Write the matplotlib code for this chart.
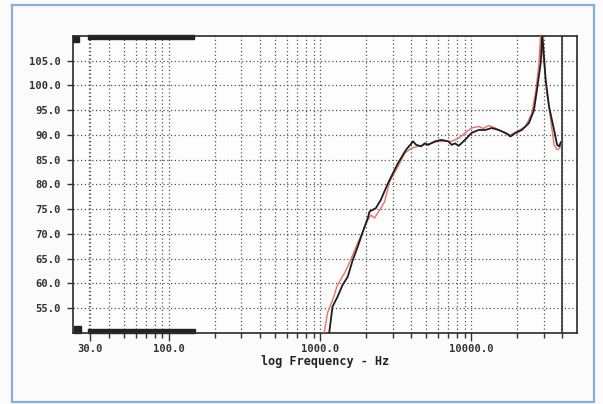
import numpy as np
import matplotlib
matplotlib.use('Agg')
import matplotlib.pyplot as plt
from matplotlib.patches import Rectangle
from matplotlib.ticker import FixedLocator, NullFormatter

# black trace (freq Hz, dB)
black_f = [1143, 1202, 1298, 1402, 1514, 1635, 1765, 1905, 2058, 2112, 2200, 2326, 2512,
           2797, 3262, 3687, 4107, 4300, 4642, 4900, 5169, 5728, 6310, 7026, 7400, 7787, 8200, 8577,
           9261, 10000, 11137, 12339, 13594, 15136, 16774, 18113, 19558, 21544,
           23988, 25910, 27133, 28708, 29424, 30988, 32620, 35223, 36879, 38019, 39024]
black_db = [50.0, 55.3, 57.3, 59.7, 61.3, 64.7, 67.4, 70.4, 73.2, 74.5, 74.8, 75.2, 76.9,
            80.2, 84.3, 87.0, 88.7, 88.0, 87.7, 88.3, 88.0, 88.7, 89.0, 88.7, 88.0, 88.3, 87.8, 88.3,
            89.3, 90.4, 91.0, 91.0, 91.4, 91.0, 90.4, 89.7, 90.4, 91.0,
            92.4, 95.0, 99.1, 104.5, 110.5, 101.1, 95.7, 91.0, 88.0, 87.7, 88.5]

# red trace
red_f = [1059, 1113, 1202, 1298, 1439, 1585, 1765, 1905, 2058, 2154, 2280, 2462,
         2659, 2871, 3262, 3614, 3981, 4433, 4912, 5412, 6026, 6678, 7356, 8189,
         9078, 10000, 11137, 12000, 12976, 14388, 15849, 18113, 19953, 22803, 25119,
         26714, 27971, 28708, 30200, 31623, 33475, 35223, 36879, 38431, 39200]
red_db = [50.0, 54.0, 56.6, 59.7, 62.0, 64.7, 68.2, 70.4, 72.8, 73.8, 73.2, 74.8,
          76.5, 80.6, 83.6, 86.3, 87.3, 87.7, 88.0, 88.3, 88.7, 88.7, 88.7, 89.3,
          90.4, 91.4, 91.7, 91.3, 91.9, 91.4, 90.7, 90.0, 90.7, 91.7, 94.4,
          99.1, 104.5, 110.5, 104.5, 98.4, 93.0, 88.0, 87.0, 87.3, 88.5]

yticks = [55, 60, 65, 70, 75, 80, 85, 90, 95, 100, 105]
xmajor = [30, 100, 1000, 10000]
xminor = [40, 50, 60, 70, 80, 90, 200, 300, 400, 500, 600, 700, 800, 900,
          2000, 3000, 4000, 5000, 6000, 7000, 8000, 9000, 20000, 30000, 40000]

font = 'DejaVu Sans Mono'

fig = plt.figure(figsize=(6.03, 4.04), dpi=100)
fig.patch.set_facecolor('#fbfbfb')
fig.patches.append(Rectangle((0.02, 0.006), 0.965, 0.981, transform=fig.transFigure,
                             fill=False, edgecolor='#8aaedb', linewidth=1.6))

ax = fig.add_axes([0.121, 0.176, 0.836, 0.735])
ax.set_facecolor('#fdfdfd')
ax.set_xscale('log')
ax.set_xlim(23, 50000)
ax.set_ylim(50, 110)

ax.xaxis.set_major_locator(FixedLocator(xmajor))
ax.xaxis.set_minor_locator(FixedLocator(xminor))
ax.xaxis.set_minor_formatter(NullFormatter())
ax.set_xticklabels(['%.1f' % v for v in xmajor])
ax.set_yticks(yticks)
ax.set_yticklabels(['%.1f' % v for v in yticks])

for lab in ax.get_xticklabels() + ax.get_yticklabels():
    lab.set_fontfamily(font)
    lab.set_fontweight('bold')
    lab.set_fontsize(7.6)
    lab.set_color('#333333')

ax.tick_params(axis='y', direction='out', length=4, width=1, color='#333333', pad=5)
ax.tick_params(axis='x', which='major', direction='out', length=6, width=1, color='#333333', pad=2)
ax.tick_params(axis='x', which='minor', direction='out', length=3.5, width=1, color='#333333')

ax.grid(True, which='both', axis='x', color='#555555', linestyle=(0, (1, 2)), linewidth=0.9)
ax.grid(True, which='major', axis='y', color='#555555', linestyle=(0, (1, 2)), linewidth=0.9)
ax.axvline(29.3, color='#555555', linestyle=(0, (1, 2)), linewidth=0.9, zorder=0.5)
ax.set_axisbelow(True)

ax.axvline(40000, color='#333333', linewidth=1.2)

for s in ax.spines.values():
    s.set_color('#2a2a2a')
    s.set_linewidth(1.2)

ax.plot(red_f, red_db, color='#ec6f6a', linewidth=1.0, zorder=3)
ax.plot(black_f, black_db, color='#1e1e1e', linewidth=1.3, zorder=4)

# scroll markers on the frame
ax.add_patch(Rectangle((0, 0.98), 0.012, 0.02, transform=ax.transAxes, color='#222222', clip_on=False))
ax.add_patch(Rectangle((0.03, 0.99), 0.21, 0.012, transform=ax.transAxes, color='#222222', clip_on=False))
ax.add_patch(Rectangle((0.003, 0), 0.012, 0.022, transform=ax.transAxes, color='#222222', clip_on=False))
ax.add_patch(Rectangle((0.03, -0.002), 0.212, 0.016, transform=ax.transAxes, color='#222222', clip_on=False))

ax.set_xlabel('log Frequency - Hz', fontfamily=font, fontweight='bold', fontsize=8.5,
              color='#222222', labelpad=1)

fig.savefig('out.png', dpi=100)
